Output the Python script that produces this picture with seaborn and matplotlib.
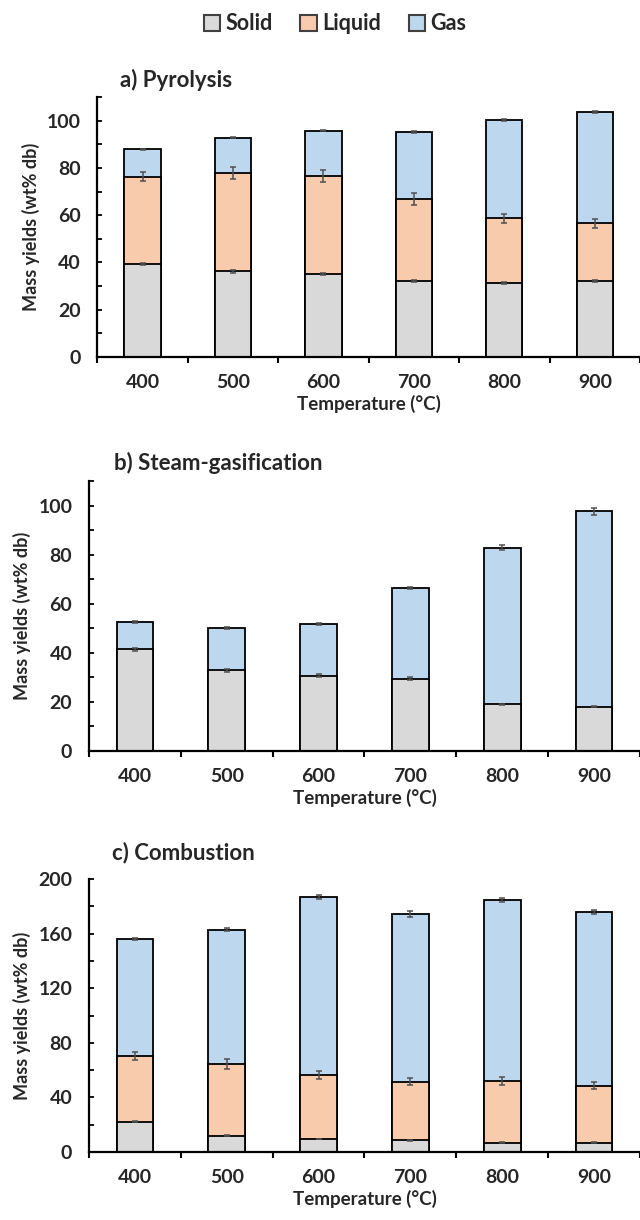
import matplotlib
matplotlib.use("Agg")
import matplotlib.pyplot as plt
import seaborn as sns
import numpy as np
from matplotlib.patches import Patch
from matplotlib.ticker import MultipleLocator

temps = ["400", "500", "600", "700", "800", "900"]

# a) Pyrolysis, segment values (wt% db)
pyr_solid = [39.3, 36.2, 35.2, 32.2, 31.2, 32.1]
pyr_liquid = [37.0, 41.8, 41.5, 34.6, 27.4, 24.4]
pyr_gas = [11.6, 14.8, 19.1, 28.5, 41.7, 47.2]
pyr_solid_err = [0.5, 0.5, 0.4, 0.4, 0.4, 0.4]
pyr_liquid_err = [2.0, 2.5, 2.5, 2.5, 1.8, 1.8]
pyr_gas_err = [0.3, 0.3, 0.3, 0.4, 0.5, 0.5]

# b) Steam-gasification (no liquid fraction)
gsf_solid = [41.4, 32.9, 30.7, 29.5, 19.0, 18.1]
gsf_gas = [11.1, 17.3, 21.0, 37.0, 63.9, 79.6]
gsf_solid_err = [0.7, 0.5, 0.5, 0.5, 0.3, 0.3]
gsf_gas_err = [0.3, 0.3, 0.3, 0.5, 1.0, 1.5]

# c) Combustion
cmb_solid = [22.2, 11.9, 9.5, 8.5, 6.8, 6.8]
cmb_liquid = [48.0, 52.4, 46.8, 42.9, 45.3, 41.7]
cmb_gas = [85.7, 98.7, 130.8, 123.0, 132.3, 127.1]
cmb_solid_err = [0.3, 0.3, 0.3, 0.3, 0.3, 0.3]
cmb_liquid_err = [3.0, 3.5, 3.0, 2.5, 3.0, 2.5]
cmb_gas_err = [0.8, 1.0, 1.5, 2.0, 1.5, 1.5]

COLORS = {"Solid": "#D9D9D9", "Liquid": "#F8CBAD", "Gas": "#BDD7EE"}
ERR_COLOR = "#505050"

sns.set_theme(style="ticks")
plt.rcParams["font.family"] = ["Lato", "DejaVu Sans"]
plt.rcParams["font.weight"] = "bold"
plt.rcParams["axes.labelweight"] = "bold"


def stacked_panel(ax, layers, errors, ymax, major, minor):
    """Stacked bars drawn as cumulative totals, tallest first."""
    tops = np.cumsum([np.asarray(v, dtype=float) for _, v in layers], axis=0)
    for (name, _), top in reversed(list(zip(layers, tops))):
        sns.barplot(x=temps, y=top, color=COLORS[name], saturation=1,
                    width=0.4, edgecolor="black", linewidth=1.3,
                    errorbar=None, label=name, ax=ax)
    for top, err in zip(tops, errors):
        ax.errorbar(np.arange(len(temps)), top, yerr=err, fmt="none",
                    ecolor=ERR_COLOR, elinewidth=1.1, capsize=2.5,
                    capthick=1.1, zorder=5)

    ax.set_xlim(-0.5, len(temps) - 0.5)
    ax.set_ylim(0, ymax)
    ax.yaxis.set_major_locator(MultipleLocator(major))
    ax.yaxis.set_minor_locator(MultipleLocator(minor))
    ax.set_xticks(np.arange(-0.5, len(temps)), minor=True)
    sns.despine(ax=ax)
    for side in ("left", "bottom"):
        ax.spines[side].set_linewidth(1.6)
        ax.spines[side].set_color("black")
    ax.tick_params(axis="x", which="major", length=0, pad=12, labelsize=14)
    ax.tick_params(axis="x", which="minor", length=4, width=1.5,
                   direction="out", color="black")
    ax.tick_params(axis="y", which="both", length=3.5, width=1.3,
                   direction="in", color="black", labelsize=14, pad=12)
    ax.set_xlabel("Temperature (°C)", fontsize=13.5, labelpad=3)
    ax.set_ylabel("Mass yields (wt% db)", fontsize=13, labelpad=5)
    if ax.get_legend():
        ax.get_legend().remove()


fig = plt.figure(figsize=(6.4, 12.2), dpi=100)
ax_a = fig.add_axes([0.152, 0.7074, 0.848, 0.2131])
ax_b = fig.add_axes([0.139, 0.3844, 0.861, 0.2213])
ax_c = fig.add_axes([0.139, 0.0557, 0.861, 0.2238])

stacked_panel(ax_a,
              [("Solid", pyr_solid), ("Liquid", pyr_liquid), ("Gas", pyr_gas)],
              [pyr_solid_err, pyr_liquid_err, pyr_gas_err], 110, 20, 10)
stacked_panel(ax_b,
              [("Solid", gsf_solid), ("Gas", gsf_gas)],
              [gsf_solid_err, gsf_gas_err], 110, 20, 10)
stacked_panel(ax_c,
              [("Solid", cmb_solid), ("Liquid", cmb_liquid), ("Gas", cmb_gas)],
              [cmb_solid_err, cmb_liquid_err, cmb_gas_err], 200, 40, 20)

title_kw = dict(fontsize=16, fontweight="bold", va="center", ha="left")
fig.text(120 / 640, 1 - 80 / 1220, "a) Pyrolysis", **title_kw)
fig.text(114 / 640, 1 - 463 / 1220, "b) Steam-gasification", **title_kw)
fig.text(112 / 640, 1 - 853 / 1220, "c) Combustion", **title_kw)

handles = [Patch(facecolor=COLORS[n], edgecolor="#404040", linewidth=1.5)
           for n in ("Solid", "Liquid", "Gas")]
fig.legend(handles, ["Solid", "Liquid", "Gas"], loc="center",
           bbox_to_anchor=(335 / 640, 1 - 24 / 1220), ncol=3, frameon=False,
           handlelength=0.75, handleheight=0.75, handletextpad=0.25,
           columnspacing=1.3, prop={"size": 15.5, "weight": "bold"})

fig.savefig("out.png", dpi=100)
